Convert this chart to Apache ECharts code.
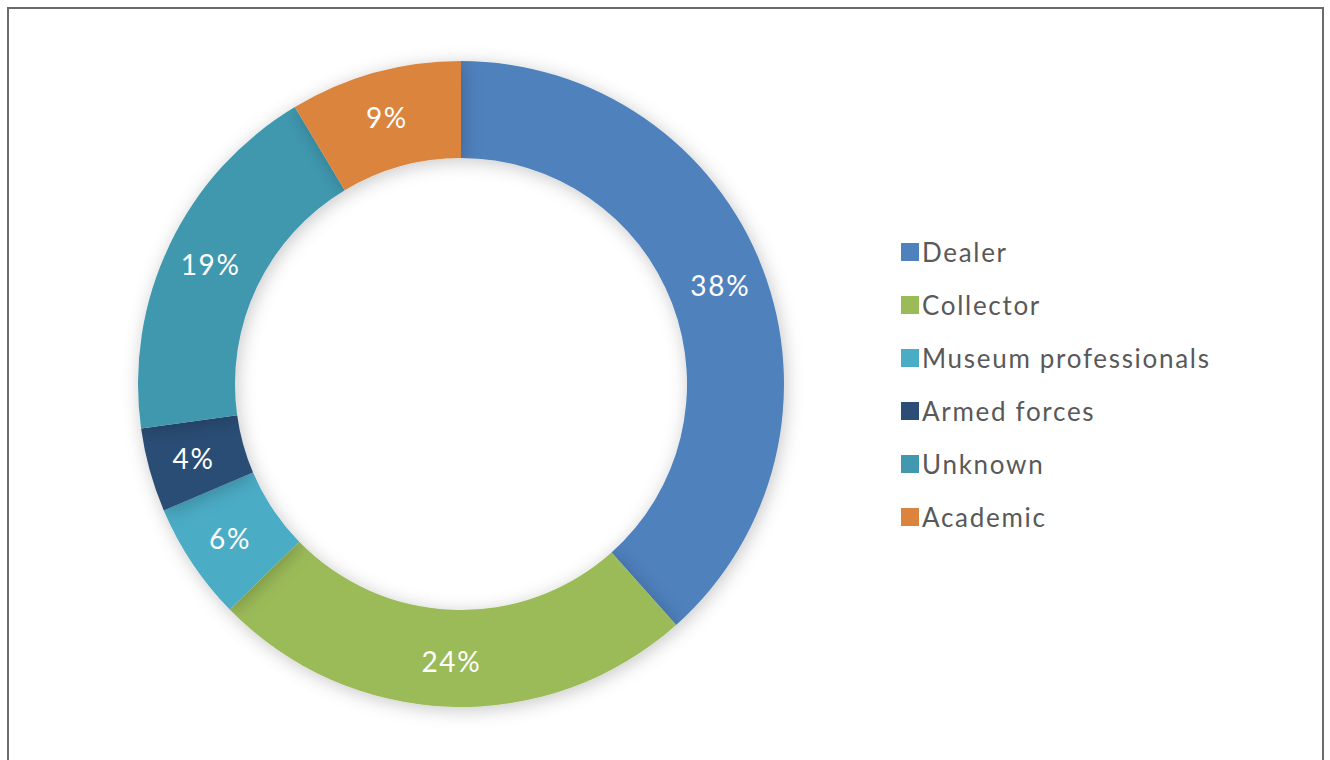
<!DOCTYPE html>
<html>
<head>
<meta charset="utf-8">
<script src="https://cdn.jsdelivr.net/npm/echarts@6/dist/echarts.min.js"></script>
<style>
    html, body { margin: 0; padding: 0; background: #fff; overflow: hidden; }
    #frame { position: absolute; left: 7px; top: 7px; width: 1313px; height: 800px; border: 2px solid #6b6b6b; border-bottom: none; }
    #main { position: absolute; left: 0; top: 0; width: 1330px; height: 760px; }
    #main svg text { letter-spacing: 1.7px; }
</style>
</head>
<body>
<div id="frame"></div>
<div id="main"></div>
<script>
// 数据（份额按图中扇区角度读出，标签取整）
var categories = ['Dealer', 'Collector', 'Museum professionals', 'Armed forces', 'Unknown', 'Academic'];
var shares = [38.4, 24.3, 5.9, 4.2, 18.6, 8.6];
var colors = ['#4F81BD', '#9BBB59', '#4BACC6', '#2C4D75', '#4198AF', '#DB843D'];

var myChart = echarts.init(document.getElementById('main'), null, { renderer: 'svg' });

var pieData = categories.map(function (name, i) {
    return { name: name, value: shares[i], itemStyle: { color: colors[i] } };
});

option = {
    backgroundColor: 'transparent',
    legend: {
        orient: 'vertical',
        left: 896,
        top: 234,
        itemWidth: 18,
        itemHeight: 18,
        itemGap: 27,
        icon: 'rect',
        textStyle: {
            fontFamily: 'Lato',
            fontSize: 26,
            color: '#595959',
            padding: [0, 0, 0, -2]
        },
        data: categories
    },
    series: [
        {
            name: 'Source',
            type: 'pie',
            center: [461, 384],
            radius: [226, 323],
            startAngle: 90,
            clockwise: true,
            avoidLabelOverlap: false,
            itemStyle: {
                shadowBlur: 18,
                shadowColor: 'rgba(0,0,0,0.22)',
                shadowOffsetX: 2,
                shadowOffsetY: 3
            },
            label: {
                show: true,
                position: 'inside',
                formatter: function (p) {
                    return Math.round(p.percent) + '%';
                },
                color: '#ffffff',
                fontFamily: 'Lato',
                fontSize: 28
            },
            labelLine: { show: false },
            emphasis: { scale: false },
            data: pieData
        }
    ]
};
myChart.setOption(option);
</script>
</body>
</html>
